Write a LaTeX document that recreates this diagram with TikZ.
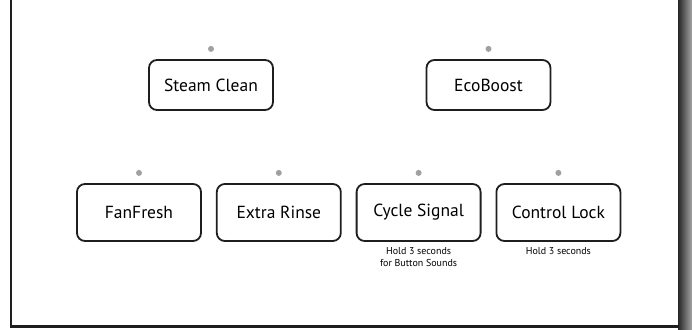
\documentclass[tikz,border=0pt]{standalone}
\usepackage{fontspec}
\setmainfont{PT Sans}
\usetikzlibrary{positioning}
\definecolor{PanelLine}{RGB}{30,30,30}
\definecolor{LedGrey}{RGB}{160,160,160}

\begin{document}
\begin{tikzpicture}[
x=1pt,y=-1pt,
node distance=14pt and 14pt,
box/.style={rectangle,rounded corners=8pt,draw=PanelLine,line width=1.8pt,fill=white,minimum width=124pt,minimum height=57pt,inner sep=0pt,font=\fontsize{17.5}{19}\selectfont},
topbox/.style={box,minimum height=50pt},
led/.style={circle,fill=LedGrey,inner sep=0pt,minimum size=6pt},
note/.style={align=center,inner sep=0pt,font=\fontsize{10}{12}\selectfont}
]
\useasboundingbox (0,0) rectangle (692,329);
% panel frame
\shade[left color=black!85,right color=black!35] (678,0) rectangle (692,329);
\draw[PanelLine,line width=2.6pt] (11,0) -- (11,326.5) -- (679,326.5);
% upper row
\node[topbox] (steam) at (211,85) {Steam Clean};
\node[topbox] (eco) at (488.5,85) {EcoBoost};
% lower row
\node[box] (fan) at (139,212.5) {FanFresh};
\node[box,right=of fan] (rinse) {Extra Rinse};
\node[box,right=of rinse] (signal) {Cycle Signal};
\node[box,right=of signal] (lock) {Control Lock};
% indicator lights
\foreach \b in {steam,eco,fan,rinse,signal,lock}
  \node[led,above=7pt of \b] (led-\b) {};
% hints
\node[note,below=5pt of signal] (signal-note) {Hold 3 seconds\\for Button Sounds};
\node[note,below=5pt of lock] (lock-note) {Hold 3 seconds};
\end{tikzpicture}
\end{document}
